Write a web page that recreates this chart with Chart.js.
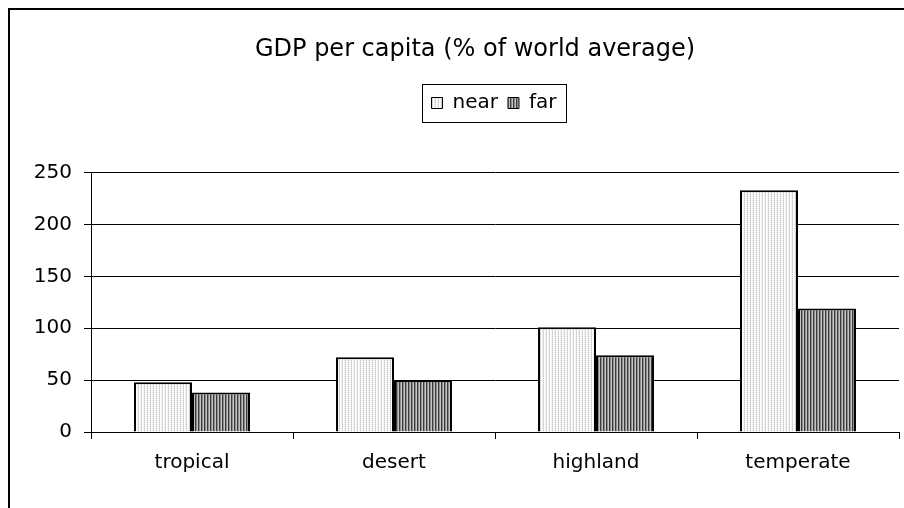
<!DOCTYPE html>
<html>
<head>
<meta charset="utf-8">
<script src="https://cdn.jsdelivr.net/npm/chart.js@4"></script>
<style>
  html, body { margin: 0; padding: 0; background: #fff; overflow: hidden; }
  #chart { display: block; }
</style>
</head>
<body>
<canvas id="chart" width="904" height="508"></canvas>
<script>
// data
const categories = ['tropical', 'desert', 'highland', 'temperate'];
const nearValues = [48, 72, 101, 233];
const farValues = [38, 50, 74, 119];
const yTicks = [0, 50, 100, 150, 200, 250];

const FONT = 'DejaVu Sans';
const TITLE_SIZE = 24;
const TITLE_PAD_TOP = 30;

// Excel-style fill patterns
function makePattern(w, h, pixels) {
    const c = document.createElement('canvas');
    c.width = w;
    c.height = h;
    const g = c.getContext('2d');
    pixels.forEach((row, y) => {
        row.forEach((col, x) => {
            g.fillStyle = col;
            g.fillRect(x, y, 1, 1);
        });
    });
    return g.createPattern(c, 'repeat');
}

const ctx = document.getElementById('chart').getContext('2d');

const nearFill = makePattern(3, 2, [
    ['#c4c4c4', '#ffffff', '#f4f4f4'],
    ['#e2e2e2', '#ffffff', '#f4f4f4']
]);
const farFill = makePattern(3, 1, [
    ['#3c3c3c', '#8c8c8c', '#c4c4c4']
]);

// frame round the chart + box round the legend, and placement of title/legend
const excelBits = {
    id: 'excelBits',
    afterLayout(chart) {
        const t = chart.titleBlock;
        const dxT = 475 - (t.left + t.right) / 2;
        const dyT = 50 - (t.top + TITLE_PAD_TOP + TITLE_SIZE * 0.6);
        t.left += dxT; t.right += dxT; t.top += dyT; t.bottom += dyT;

        const l = chart.legend;
        const dxL = 494 - (l.left + l.right) / 2;
        const dyL = 103 - (l.top + l.height / 2);
        l.left += dxL; l.right += dxL; l.top += dyL; l.bottom += dyL;
    },
    beforeDraw(chart) {
        const c = chart.ctx;
        c.save();
        c.fillStyle = '#000';
        c.fillRect(8, 8, chart.width, 2);
        c.fillRect(8, 8, 2, chart.height);
        c.restore();
    },
    afterDraw(chart) {
        const boxes = chart.legend.legendHitBoxes;
        if (!boxes || !boxes.length) return;
        let x0 = Infinity, x1 = -Infinity;
        boxes.forEach(b => {
            x0 = Math.min(x0, b.left);
            x1 = Math.max(x1, b.left + b.width);
        });
        const c = chart.ctx;
        c.save();
        c.strokeStyle = '#000';
        c.lineWidth = 1;
        c.strokeRect(Math.round(x0 - 10) + 0.5, 84.5, Math.round(x1 - x0 + 19), 38);
        c.restore();
    }
};

new Chart(ctx, {
    type: 'bar',
    data: {
        labels: categories,
        datasets: [{
            label: 'near',
            data: nearValues,
            backgroundColor: nearFill,
            borderColor: '#000',
            borderWidth: 2,
            categoryPercentage: 0.574,
            barPercentage: 1
        }, {
            label: 'far',
            data: farValues,
            backgroundColor: farFill,
            borderColor: '#000',
            borderWidth: 2,
            categoryPercentage: 0.574,
            barPercentage: 1
        }]
    },
    options: {
        responsive: false,
        animation: false,
        layout: {
            padding: { left: 20, right: 5, top: 0, bottom: 0 }
        },
        plugins: {
            title: {
                display: true,
                text: 'GDP per capita (% of world average)',
                color: '#000',
                font: { family: FONT, size: TITLE_SIZE, weight: 'normal' },
                padding: { top: TITLE_PAD_TOP, bottom: 73.8 }
            },
            legend: {
                display: true,
                position: 'top',
                labels: {
                    color: '#000',
                    font: { family: FONT, size: 20 },
                    boxWidth: 11,
                    boxHeight: 11,
                    padding: 10,
                    generateLabels(chart) {
                        const items = Chart.defaults.plugins.legend.labels.generateLabels(chart);
                        items.forEach(it => { it.lineWidth = 1; });
                        return items;
                    }
                }
            },
            tooltip: { enabled: false }
        },
        scales: {
            x: {
                afterFit(scale) { scale.height = 76; },
                grid: {
                    offset: true,
                    drawOnChartArea: false,
                    drawTicks: true,
                    tickLength: 7,
                    color: '#000'
                },
                border: { color: '#000', width: 1 },
                ticks: {
                    color: '#000',
                    font: { family: FONT, size: 20 },
                    padding: 12,
                    maxRotation: 0
                }
            },
            y: {
                min: 0,
                max: 250,
                afterFit(scale) { scale.width = 71; },
                afterBuildTicks(scale) {
                    scale.ticks = yTicks.map(v => ({ value: v }));
                },
                grid: {
                    color: '#000',
                    drawTicks: true,
                    tickLength: 7
                },
                border: { color: '#000', width: 1 },
                ticks: {
                    color: '#000',
                    font: { family: FONT, size: 20 },
                    padding: 12
                }
            }
        }
    },
    plugins: [excelBits]
});
</script>
</body>
</html>
